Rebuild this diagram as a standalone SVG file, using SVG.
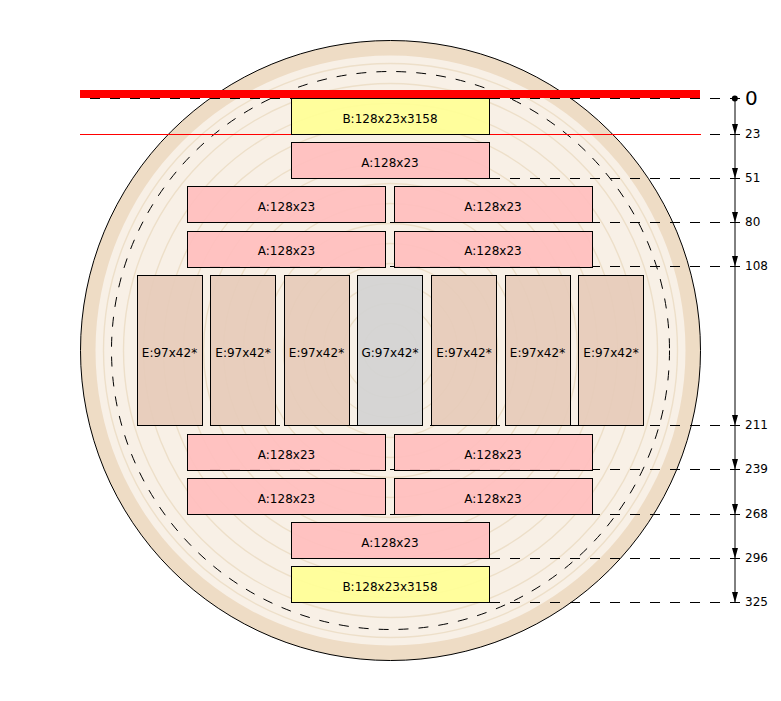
<svg xmlns="http://www.w3.org/2000/svg" width="781" height="701" viewBox="0 0 781 701">
<style>
.t{font-family:"DejaVu Sans",sans-serif;font-size:12px;fill:#000}
.c{text-anchor:middle}
.box{stroke:#000;stroke-width:1;fill-opacity:.92}
.a{fill:#ffbebe}.b{fill:#ffff96}.e{fill:#e6cbba}.g{fill:#d2d2d2}
.ring{fill:none;stroke:#eddfc9;stroke-width:1.4}
.dash{stroke:#000;stroke-width:1;stroke-dasharray:10 10;fill:none}
</style>
<defs><marker id="ah" markerUnits="userSpaceOnUse" markerWidth="11" markerHeight="6" refX="10.5" refY="3" orient="auto" viewBox="0 0 11 6"><path d="M0 0L10.5 3L0 6Z" fill="#000"/></marker></defs>
<rect width="781" height="701" fill="#fff"/>
<g id="wafer">
<circle cx="390.5" cy="350.5" r="310" fill="#eedcc5" stroke="#000"/>
<circle cx="390.5" cy="350.5" r="295" fill="#f8f0e6"/>
<g class="rings"><circle class="ring" cx="390.5" cy="350.5" r="287"/><circle class="ring" cx="390.5" cy="350.5" r="267"/><circle class="ring" cx="390.5" cy="350.5" r="247"/><circle class="ring" cx="390.5" cy="350.5" r="227"/><circle class="ring" cx="390.5" cy="350.5" r="207"/><circle class="ring" cx="390.5" cy="350.5" r="187"/><circle class="ring" cx="390.5" cy="350.5" r="167"/><circle class="ring" cx="390.5" cy="350.5" r="147"/><circle class="ring" cx="390.5" cy="350.5" r="127"/><circle class="ring" cx="390.5" cy="350.5" r="107"/><circle class="ring" cx="390.5" cy="350.5" r="87"/><circle class="ring" cx="390.5" cy="350.5" r="67"/><circle class="ring" cx="390.5" cy="350.5" r="47"/><circle class="ring" cx="390.5" cy="350.5" r="27"/></g>
<circle class="dash" cx="390.5" cy="350.5" r="279"/>
</g>
<g id="connectors">
<path class="dash" d="M90 98.5H740M710 134.5H740M310 178.5H740M210 222.5H740M210 266.5H740M150 425.5H740M210 469.5H740M210 514.5H740M310 558.5H740M310 602.5H740"/>
<rect x="80" y="90" width="620" height="8" fill="#f00"/>
<path d="M80 134.5H701" stroke="#f00" stroke-width="1"/>
<circle cx="734.8" cy="98.5" r="3" fill="#000"/>
<g stroke="#000" stroke-width="1" fill="none" marker-end="url(#ah)">
<path d="M735 98.5V134.5"/><path d="M735 134.5V178.5"/><path d="M735 178.5V222.5"/><path d="M735 222.5V266.5"/><path d="M735 266.5V425.5"/><path d="M735 425.5V469.5"/><path d="M735 469.5V514.5"/><path d="M735 514.5V558.5"/><path d="M735 558.5V602.5"/>
</g>
<g class="t">
<text x="745" y="105" style="font-size:20px">0</text>
<text x="745" y="138">23</text><text x="745" y="182">51</text><text x="745" y="226">80</text><text x="745" y="270">108</text><text x="745" y="429">211</text><text x="745" y="473">239</text><text x="745" y="518">268</text><text x="745" y="562">296</text><text x="745" y="606">325</text>
</g>
</g>
<g id="n1"><rect class="box b" x="291.5" y="98.5" width="198" height="36"/><text class="t c" x="390" y="123">B:128x23x3158</text></g>
<g id="n2"><rect class="box a" x="291.5" y="142.5" width="198" height="36"/><text class="t c" x="390" y="167">A:128x23</text></g>
<g id="n3"><rect class="box a" x="187.5" y="186.5" width="198" height="36"/><text class="t c" x="286.5" y="211">A:128x23</text></g>
<g id="n4"><rect class="box a" x="394.5" y="186.5" width="198" height="36"/><text class="t c" x="493" y="211">A:128x23</text></g>
<g id="n5"><rect class="box a" x="187.5" y="231.5" width="198" height="36"/><text class="t c" x="286.5" y="255">A:128x23</text></g>
<g id="n6"><rect class="box a" x="394.5" y="231.5" width="198" height="36"/><text class="t c" x="493" y="255">A:128x23</text></g>
<g id="n7"><rect class="box e" x="137.5" y="275.5" width="65" height="150"/><text class="t c" x="169.5" y="357">E:97x42*</text></g>
<g id="n8"><rect class="box e" x="210.5" y="275.5" width="65" height="150"/><text class="t c" x="243" y="357">E:97x42*</text></g>
<g id="n9"><rect class="box e" x="284.5" y="275.5" width="65" height="150"/><text class="t c" x="316.5" y="357">E:97x42*</text></g>
<g id="n10"><rect class="box g" x="357.5" y="275.5" width="65" height="150"/><text class="t c" x="390" y="357">G:97x42*</text></g>
<g id="n11"><rect class="box e" x="431.5" y="275.5" width="65" height="150"/><text class="t c" x="464" y="357">E:97x42*</text></g>
<g id="n12"><rect class="box e" x="505.5" y="275.5" width="65" height="150"/><text class="t c" x="537.5" y="357">E:97x42*</text></g>
<g id="n13"><rect class="box e" x="578.5" y="275.5" width="65" height="150"/><text class="t c" x="611" y="357">E:97x42*</text></g>
<g id="n14"><rect class="box a" x="187.5" y="434.5" width="198" height="36"/><text class="t c" x="286.5" y="459">A:128x23</text></g>
<g id="n15"><rect class="box a" x="394.5" y="434.5" width="198" height="36"/><text class="t c" x="493" y="459">A:128x23</text></g>
<g id="n16"><rect class="box a" x="187.5" y="478.5" width="198" height="36"/><text class="t c" x="286.5" y="503">A:128x23</text></g>
<g id="n17"><rect class="box a" x="394.5" y="478.5" width="198" height="36"/><text class="t c" x="493" y="503">A:128x23</text></g>
<g id="n18"><rect class="box a" x="291.5" y="522.5" width="198" height="36"/><text class="t c" x="390" y="547">A:128x23</text></g>
<g id="n19"><rect class="box b" x="291.5" y="566.5" width="198" height="36"/><text class="t c" x="390" y="591">B:128x23x3158</text></g>
</svg>
